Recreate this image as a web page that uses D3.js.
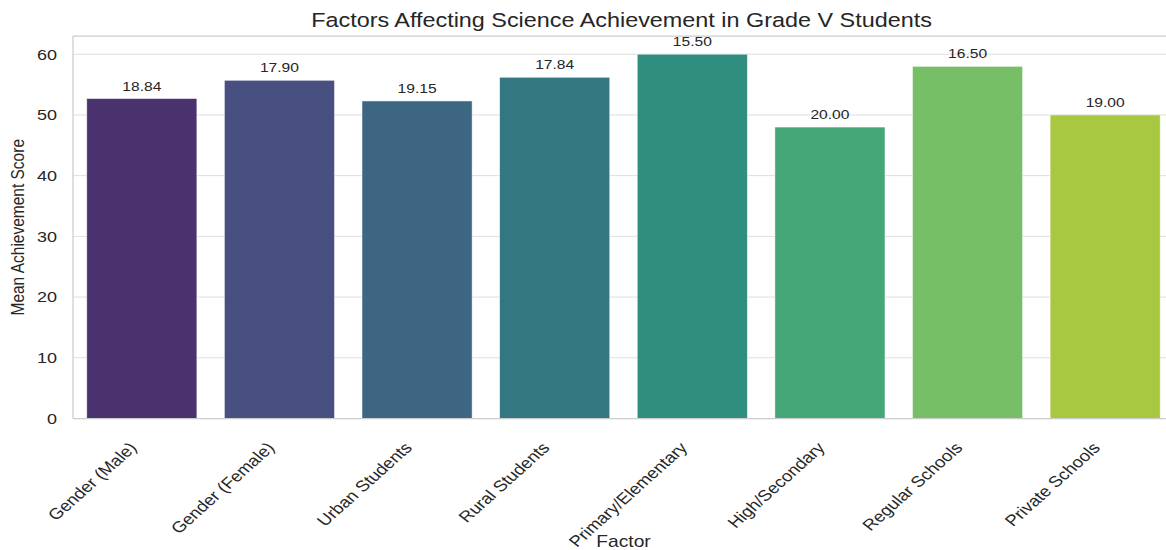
<!DOCTYPE html>
<html>
<head>
<meta charset="utf-8">
<script src="https://cdn.jsdelivr.net/npm/d3@7"></script>
<style>
  html, body { margin: 0; padding: 0; background: #fff; }
  svg { display: block; font-family: "Liberation Sans", Arial, sans-serif; }
</style>
</head>
<body>
<svg id="chart" width="1166" height="550"></svg>
<script>
// Mean science achievement score per factor group
const factors = [
  "Gender (Male)", "Gender (Female)", "Urban Students", "Rural Students",
  "Primary/Elementary", "High/Secondary", "Regular Schools", "Private Schools"
];
const meanScores = [52.7, 55.7, 52.3, 56.2, 60.0, 48.0, 58.0, 50.0];
// Standard deviation printed above each bar
const sdLabels = ["18.84", "17.90", "19.15", "17.84", "15.50", "20.00", "16.50", "19.00"];
const yTicks = [0, 10, 20, 30, 40, 50, 60];

const margin = { left: 73, top: 36, right: 1174, bottom: 418.5 };
const textColor = "#262626";
const stretch = 1.2;   // text is drawn slightly wide

const svg = d3.select("#chart");

const x = d3.scaleBand()
  .domain(factors)
  .range([margin.left, margin.right])
  .paddingInner(0.2)
  .paddingOuter(0.1);

const y = d3.scaleLinear()
  .domain([0, d3.max(meanScores) * 1.05])
  .range([margin.bottom, margin.top]);

// viridis palette, softened like seaborn's default bar saturation
const palette = factors.map((f, i) => {
  const c = d3.hsl(d3.interpolateViridis((i + 1) / (factors.length + 1)));
  c.s *= 0.75;
  return c.formatHex();
});

// places a text element at (px, py) with a horizontal stretch
function wideText(sel, px, py, extra = "") {
  return sel.attr("x", 0).attr("y", 0)
    .attr("transform", `translate(${px},${py}) scale(${stretch},1) ${extra}`);
}

// horizontal grid
svg.append("g")
  .selectAll("line")
  .data(yTicks)
  .join("line")
  .attr("x1", margin.left).attr("x2", margin.right)
  .attr("y1", d => y(d)).attr("y2", d => y(d))
  .attr("stroke", "#dedede").attr("stroke-width", 1);

// bars
svg.append("g")
  .selectAll("rect")
  .data(factors)
  .join("rect")
  .attr("x", d => x(d))
  .attr("width", x.bandwidth())
  .attr("y", (d, i) => y(meanScores[i]))
  .attr("height", (d, i) => y(0) - y(meanScores[i]))
  .attr("fill", (d, i) => palette[i])
  .attr("stroke", "#ffffff").attr("stroke-opacity", 0.6).attr("stroke-width", 0.8);

// spines
const spine = svg.append("g").attr("stroke", "#cccccc").attr("stroke-width", 1.25).attr("fill", "none");
spine.append("line").attr("x1", margin.left).attr("x2", margin.left).attr("y1", margin.top).attr("y2", margin.bottom);
spine.append("line").attr("x1", margin.left).attr("x2", margin.right).attr("y1", margin.top).attr("y2", margin.top);
spine.append("line").attr("x1", margin.left).attr("x2", margin.right).attr("y1", margin.bottom).attr("y2", margin.bottom);
spine.append("line").attr("x1", margin.right).attr("x2", margin.right).attr("y1", margin.top).attr("y2", margin.bottom);

// value labels above bars
svg.append("g")
  .selectAll("text")
  .data(factors)
  .join("text")
  .each(function (d, i) {
    wideText(d3.select(this), x(d) + x.bandwidth() / 2, y(meanScores[i]) - 8);
  })
  .attr("text-anchor", "middle")
  .attr("font-size", 13)
  .attr("fill", textColor)
  .text((d, i) => sdLabels[i]);

// y axis
const yAxis = svg.append("g")
  .attr("transform", `translate(${margin.left},0)`)
  .call(d3.axisLeft(y).tickValues(yTicks).tickSize(0).tickPadding(16));
yAxis.select(".domain").remove();
yAxis.selectAll(".tick text")
  .attr("font-size", 15).attr("fill", textColor)
  .attr("font-family", "Liberation Sans, Arial, sans-serif")
  .attr("x", 0).attr("dy", "0.32em")
  .attr("transform", `translate(-16,0) scale(${stretch},1)`);

// x axis
const xAxis = svg.append("g")
  .attr("transform", `translate(0,${margin.bottom})`)
  .call(d3.axisBottom(x).tickSize(0).tickPadding(0));
xAxis.select(".domain").remove();
xAxis.selectAll(".tick text")
  .attr("font-size", 15.5)
  .attr("fill", textColor)
  .attr("font-family", "Liberation Sans, Arial, sans-serif")
  .attr("text-anchor", "end")
  .attr("dy", null)
  .attr("y", 0)
  .attr("transform", `translate(-4,30) scale(${stretch},1) rotate(-47)`);

// titles
wideText(svg.append("text"), (margin.left + margin.right) / 2 - 2, 27)
  .attr("text-anchor", "middle")
  .attr("font-size", 19.5)
  .attr("fill", textColor)
  .text("Factors Affecting Science Achievement in Grade V Students");

wideText(svg.append("text"), (margin.left + margin.right) / 2, 547)
  .attr("text-anchor", "middle")
  .attr("font-size", 16)
  .attr("fill", textColor)
  .text("Factor");

wideText(svg.append("text"), 24, (margin.top + margin.bottom) / 2, "rotate(-90)")
  .attr("text-anchor", "middle")
  .attr("font-size", 15.5)
  .attr("fill", textColor)
  .text("Mean Achievement Score");
</script>
</body>
</html>
